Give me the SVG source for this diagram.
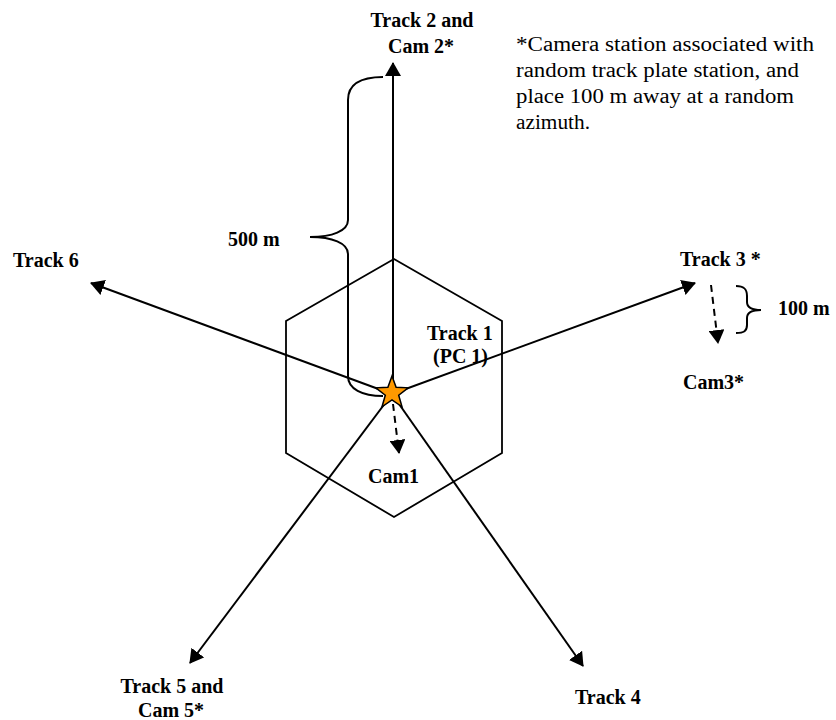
<svg xmlns="http://www.w3.org/2000/svg" width="836" height="720" viewBox="0 0 836 720">
<defs>
<style>
.lbl{font-family:"Liberation Serif","Times New Roman",serif;font-weight:bold;font-size:20px;fill:#000}
.note{font-family:"Liberation Serif","Times New Roman",serif;font-size:20px;fill:#000}
.ln{stroke:#000;stroke-width:2;fill:none}
.dash{stroke:#000;stroke-width:2;fill:none;stroke-dasharray:7,5}
.shape{stroke:#000;stroke-width:1.8;fill:none}
</style>
<marker id="arr" viewBox="0 0 14 16" refX="13" refY="8" markerWidth="14" markerHeight="16" markerUnits="userSpaceOnUse" orient="auto">
<path d="M0,0 L14,8 L0,16 z" fill="#000"/>
</marker>
</defs>
<rect width="836" height="720" fill="#fff"/>

<g id="hexagon">
<polygon class="shape" points="394,259 502,321 502,453 394,517 286,453 286,321"/>
</g>

<g id="connectors">
<line class="ln" x1="393" y1="394" x2="393" y2="63" marker-end="url(#arr)"/>
<line class="ln" x1="392" y1="394" x2="695" y2="283" marker-end="url(#arr)"/>
<line class="ln" x1="392" y1="394" x2="91" y2="283" marker-end="url(#arr)"/>
<line class="ln" x1="392" y1="394" x2="190" y2="663" marker-end="url(#arr)"/>
<line class="ln" x1="392" y1="394" x2="583" y2="666" marker-end="url(#arr)"/>
<line class="dash" x1="393" y1="404" x2="399" y2="453" marker-end="url(#arr)"/>
<line class="dash" x1="711" y1="285" x2="718" y2="343" marker-end="url(#arr)"/>
</g>

<g id="brace-500">
<path class="ln" d="M383,77 C360,77 348,85 348,100 L348,220 C348,231 332,237 310,237 C332,237 348,243 348,254 L348,376 C348,389 362,396 383,396"/>
</g>
<g id="brace-100">
<path class="ln" d="M736,286 C744,286 747,289 747,296 L747,302 C747,307 752,310 761,310 C752,310 747,313 747,318 L747,325 C747,331 744,333 736,333"/>
</g>

<g id="track1">
<polygon points="392,376 396.1,387.3 408.2,387.8 398.7,395.2 402,406.8 392,400 382,406.8 385.3,395.2 375.8,387.8 387.9,387.3" fill="#FF9900" stroke="#000" stroke-width="1.5" stroke-linejoin="miter"/>
<text class="lbl" x="427" y="340">Track 1</text>
<text class="lbl" x="433" y="363">(PC 1)</text>
</g>
<g id="track2">
<text class="lbl" x="422" y="27" text-anchor="middle">Track 2 and</text>
<text class="lbl" x="421" y="53" text-anchor="middle">Cam 2*</text>
</g>
<g id="track3">
<text class="lbl" x="680" y="266">Track 3 *</text>
</g>
<g id="cam3">
<text class="lbl" x="683" y="389">Cam3*</text>
</g>
<g id="track4">
<text class="lbl" x="575" y="704">Track 4</text>
</g>
<g id="track5">
<text class="lbl" x="172" y="693" text-anchor="middle">Track 5 and</text>
<text class="lbl" x="171" y="717" text-anchor="middle">Cam 5*</text>
</g>
<g id="track6">
<text class="lbl" x="13" y="267">Track 6</text>
</g>
<g id="cam1">
<text class="lbl" x="368" y="483">Cam1</text>
</g>
<g id="label-500">
<text class="lbl" x="228" y="246">500 m</text>
</g>
<g id="label-100">
<text class="lbl" x="778" y="315">100 m</text>
</g>
<g id="footnote">
<text class="note" x="516" y="51" textLength="298" lengthAdjust="spacingAndGlyphs">*Camera station associated with</text>
<text class="note" x="516" y="77" textLength="283" lengthAdjust="spacingAndGlyphs">random track plate station, and</text>
<text class="note" x="516" y="103" textLength="278" lengthAdjust="spacingAndGlyphs">place 100 m away at a random</text>
<text class="note" x="516" y="129" textLength="74" lengthAdjust="spacingAndGlyphs">azimuth.</text>
</g>
</svg>
